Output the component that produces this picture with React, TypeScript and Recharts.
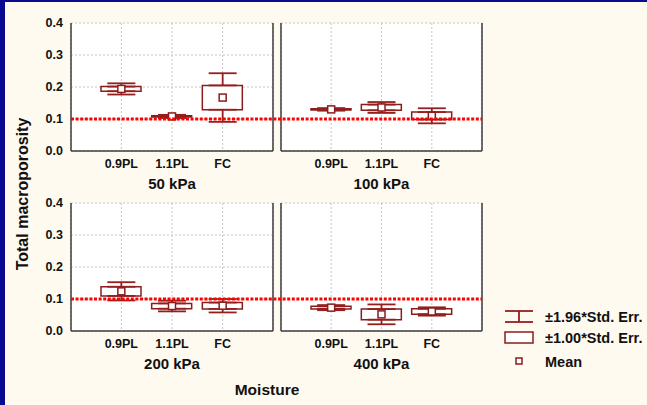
import React from 'react';
import {
  ComposedChart,
  Bar,
  Scatter,
  ErrorBar,
  XAxis,
  YAxis,
  CartesianGrid,
  ReferenceLine,
  Legend,
} from 'recharts';

// categories and panels
const moistureLevels = ['0.9PL', '1.1PL', 'FC'];
const pressureLabels = ['50 kPa', '100 kPa', '200 kPa', '400 kPa'];

// one row per panel, one value per moisture level
const meanValues = [
  [0.194, 0.108, 0.167],
  [0.13, 0.136, 0.11],
  [0.124, 0.078, 0.079],
  [0.073, 0.052, 0.061],
];
const stdErrValues = [
  [0.0073, 0.002, 0.038],
  [0.002, 0.009, 0.0115],
  [0.0143, 0.0083, 0.0099],
  [0.004, 0.0165, 0.0085],
];
const ci196Values = [
  [0.0175, 0.005, 0.076],
  [0.004, 0.017, 0.0235],
  [0.0285, 0.0167, 0.021],
  [0.008, 0.031, 0.013],
];

const majorTicks = [0, 0.1, 0.2, 0.3, 0.4];
const minorTicks = [
  0, 0.025, 0.05, 0.075, 0.1, 0.125, 0.15, 0.175, 0.2, 0.225, 0.25, 0.275, 0.3,
  0.325, 0.35, 0.375, 0.4,
];
const thresholdValue = 0.1;
const legendLabels = ['±1.96*Std. Err.', '±1.00*Std. Err.', 'Mean'];

const FONT = '"Liberation Sans", Arial, Helvetica, sans-serif';
const BOX = '#8b1c1c';
const WHISKER = '#951f1f';
const FRAME = '#3c3c3c';
const TEXT = '#111';
const BG = '#FFFAF0';

// plot areas of the 2x2 grid (px)
const COL_LEFT = [71, 281];
const COL_RIGHT = [273, 482];
const ROW_TOP = [23, 203];
const PLOT_H = 128;
const Y_AXIS_W = 60;
const X_AXIS_H = 43;

const tickStyle = { fontSize: 12.5, fontWeight: 'bold', fill: TEXT, fontFamily: FONT };

function buildPanelData(p: number) {
  return moistureLevels.map((m, i) => {
    const mean = meanValues[p][i];
    const se = stdErrValues[p][i];
    const reach = ci196Values[p][i] - se;
    return {
      moisture: m,
      mean,
      base: mean - se,
      box: 2 * se,
      boxTop: mean + se,
      boxBottom: mean - se,
      upperWhisker: [0, reach],
      lowerWhisker: [reach, 0],
    };
  });
}

const MeanMarker = (props: any) => {
  const { cx, cy } = props;
  if (cx == null || cy == null) return <g />;
  return (
    <rect x={cx - 3.5} y={cy - 3.5} width={7} height={7} fill="#fff" stroke={BOX} strokeWidth={1.5} />
  );
};

const NoMarker = () => <g />;

function Panel({ index }: { index: number }) {
  const row = Math.floor(index / 2);
  const col = index % 2;
  const plotW = COL_RIGHT[col] - COL_LEFT[col];
  const data = buildPanelData(index);
  return (
    <div style={{ position: 'absolute', left: COL_LEFT[col] - Y_AXIS_W, top: ROW_TOP[row] - 10 }}>
      <ComposedChart
        width={Y_AXIS_W + plotW + 4}
        height={10 + PLOT_H + X_AXIS_H + 2}
        data={data}
        margin={{ top: 10, right: 4, bottom: 2, left: 0 }}
      >
        <CartesianGrid fill="#fff" stroke="#c4c4c4" strokeDasharray="2 2" />
        <XAxis
          dataKey="moisture"
          type="category"
          interval={0}
          padding={{ left: 25, right: 25 }}
          height={X_AXIS_H}
          tickLine={false}
          axisLine={{ stroke: FRAME, strokeWidth: 1.5 }}
          tick={tickStyle}
          label={{
            value: pressureLabels[index],
            position: 'insideBottom',
            offset: 5,
            fontSize: 15,
            fontWeight: 'bold',
            fill: TEXT,
            fontFamily: FONT,
          }}
        />
        <XAxis
          xAxisId="top"
          orientation="top"
          dataKey="moisture"
          type="category"
          height={0}
          tick={false}
          tickLine={false}
          axisLine={{ stroke: FRAME, strokeWidth: 1.5 }}
        />
        <YAxis
          type="number"
          domain={[0, 0.4]}
          ticks={majorTicks}
          width={Y_AXIS_W}
          tickLine={false}
          tick={col === 0 ? tickStyle : false}
          tickFormatter={(v: number) => v.toFixed(1)}
          axisLine={{ stroke: FRAME, strokeWidth: 1.5 }}
        />
        <YAxis
          yAxisId="minorL"
          type="number"
          mirror
          domain={[0, 0.4]}
          ticks={minorTicks}
          tick={false}
          axisLine={false}
          tickSize={3}
          tickLine={{ stroke: FRAME }}
        />
        <YAxis
          yAxisId="minorR"
          orientation="right"
          type="number"
          mirror
          domain={[0, 0.4]}
          ticks={minorTicks}
          tick={false}
          tickSize={3}
          tickLine={{ stroke: FRAME }}
          axisLine={{ stroke: FRAME, strokeWidth: 1.5 }}
        />
        {/* boxes: ±1.00 SE */}
        <Bar dataKey="base" stackId="se" fill="none" barSize={40} isAnimationActive={false} />
        <Bar
          dataKey="box"
          stackId="se"
          fill="#fff"
          stroke={BOX}
          strokeWidth={1.5}
          barSize={40}
          isAnimationActive={false}
        />
        {/* whiskers: from the box edges out to ±1.96 SE */}
        <Scatter dataKey="boxTop" shape={NoMarker} isAnimationActive={false}>
          <ErrorBar dataKey="upperWhisker" width={14} direction="y" stroke={WHISKER} strokeWidth={1.8} />
        </Scatter>
        <Scatter dataKey="boxBottom" shape={NoMarker} isAnimationActive={false}>
          <ErrorBar dataKey="lowerWhisker" width={14} direction="y" stroke={WHISKER} strokeWidth={1.8} />
        </Scatter>
        <Scatter dataKey="mean" shape={MeanMarker} isAnimationActive={false} />
      </ComposedChart>
    </div>
  );
}

const LegendContent = () => (
  <svg width={147} height={70} style={{ overflow: 'visible' }}>
    <g stroke={WHISKER} strokeWidth={1.8}>
      <line x1={5} y1={6} x2={33} y2={6} />
      <line x1={19} y1={6} x2={19} y2={17} />
      <line x1={5} y1={17} x2={33} y2={17} />
    </g>
    <rect x={5} y={27} width={28} height={11} fill="#fff" stroke={BOX} strokeWidth={1.5} />
    <rect x={16} y={53} width={6} height={6} fill="#fff" stroke={BOX} strokeWidth={1.5} />
    {legendLabels.map((label, i) => (
      <text
        key={label}
        x={45}
        y={[12, 33, 57][i]}
        dominantBaseline="central"
        fontSize={14.5}
        fontWeight="bold"
        fill={TEXT}
        fontFamily={FONT}
      >
        {label}
      </text>
    ))}
  </svg>
);

function ThresholdRow({ row, withLegend }: { row: number; withLegend?: boolean }) {
  const top = ROW_TOP[row];
  return (
    <div style={{ position: 'absolute', left: 0, top: 0, pointerEvents: 'none' }}>
      <ComposedChart
        width={647}
        height={405}
        data={moistureLevels.map((m) => ({ moisture: m }))}
        margin={{ left: COL_LEFT[0], right: 647 - COL_RIGHT[1], top, bottom: 405 - top - PLOT_H }}
      >
        <XAxis dataKey="moisture" type="category" hide />
        <YAxis type="number" domain={[0, 0.4]} allowDataOverflow hide />
        <ReferenceLine
          y={thresholdValue}
          stroke="#ff0000"
          strokeWidth={3}
          strokeDasharray="3 1.6"
          ifOverflow="visible"
        />
        {withLegend && (
          <Legend
            layout="vertical"
            align="center"
            verticalAlign="middle"
            wrapperStyle={{ left: 500, top: 305, width: 147, height: 70 }}
            content={<LegendContent />}
          />
        )}
      </ComposedChart>
    </div>
  );
}

export default function App() {
  return (
    <div
      style={{
        position: 'absolute',
        left: 0,
        top: 0,
        width: 647,
        height: 405,
        background: BG,
        boxShadow: 'inset 5px 2px 0 #0a0a91',
        fontFamily: FONT,
        overflow: 'hidden',
      }}
    >
      {[0, 1, 2, 3].map((i) => (
        <Panel key={i} index={i} />
      ))}
      <ThresholdRow row={0} />
      <ThresholdRow row={1} withLegend />
      <div
        style={{
          position: 'absolute',
          left: 23,
          top: 194,
          transform: 'translate(-50%, -50%) rotate(-90deg)',
          whiteSpace: 'nowrap',
          fontSize: 16,
          fontWeight: 'bold',
          color: TEXT,
        }}
      >
        Total macroporosity
      </div>
      <div
        style={{
          position: 'absolute',
          left: 267,
          top: 382,
          transform: 'translateX(-50%)',
          whiteSpace: 'nowrap',
          fontSize: 15.5,
          lineHeight: '15px',
          fontWeight: 'bold',
          color: TEXT,
        }}
      >
        Moisture
      </div>
    </div>
  );
}
